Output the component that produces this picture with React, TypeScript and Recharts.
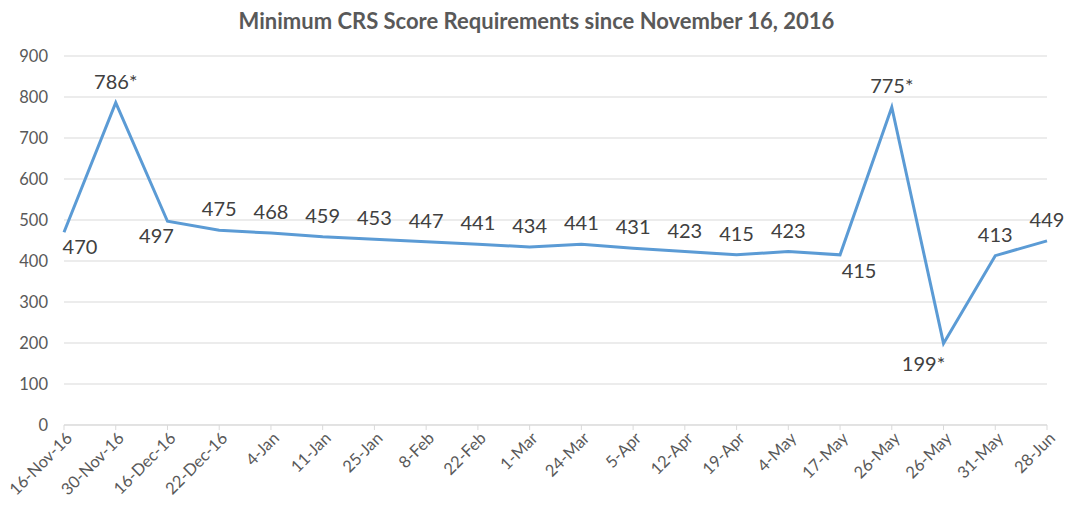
import React from 'react';
import { LineChart, Line, XAxis, YAxis, CartesianGrid, LabelList } from 'recharts';

const drawDates = [
  '16-Nov-16', '30-Nov-16', '16-Dec-16', '22-Dec-16', '4-Jan', '11-Jan', '25-Jan',
  '8-Feb', '22-Feb', '1-Mar', '24-Mar', '5-Apr', '12-Apr', '19-Apr', '4-May',
  '17-May', '26-May', '26-May', '31-May', '28-Jun',
];
const minScores = [
  470, 786, 497, 475, 468, 459, 453, 447, 441, 434, 441, 431, 423, 415, 423,
  415, 775, 199, 413, 449,
];
// program-specific draws are marked with an asterisk
const starred = [1, 16, 17];
const yTicks = [0, 100, 200, 300, 400, 500, 600, 700, 800, 900];

const data = drawDates.map((date, i) => ({
  date,
  score: minScores[i],
  label: starred.includes(i) ? `${minScores[i]}*` : `${minScores[i]}`,
}));

const FONT = 'Lato, "Open Sans", sans-serif';

// where each data label sits relative to its point
const labelOffset: Record<number, [number, number]> = {
  0: [16, 14],
  2: [-11, 14],
  15: [19, 15],
  17: [-20, 20],
};

const PointLabel = (props: any) => {
  const { x, y, value, index } = props;
  const [dx, dy] = labelOffset[index] ?? [0, -22];
  return (
    <text
      x={x + dx}
      y={y + dy}
      textAnchor="middle"
      dominantBaseline="central"
      fill="#404040"
      fontSize={20}
      fontFamily={FONT}
    >
      {value}
    </text>
  );
};

const DateTick = (props: any) => {
  const { x, y, payload } = props;
  return (
    <g transform={`translate(${x + 5},${y + 3})`}>
      <text
        textAnchor="end"
        transform="rotate(-45)"
        fill="#595959"
        fontSize={16.5}
        fontFamily={FONT}
        dominantBaseline="central"
      >
        {payload.value}
      </text>
    </g>
  );
};

export default function App() {
  return (
    <div style={{ position: 'absolute', left: 0, top: 0, width: 1073, height: 516, background: '#fff' }}>
      <div
        style={{
          position: 'absolute',
          top: 7,
          left: 0,
          width: 1073,
          textAlign: 'center',
          fontFamily: FONT,
          fontWeight: 700,
          fontSize: 22,
          color: '#595959',
        }}
      >
        Minimum CRS Score Requirements since November 16, 2016
      </div>
      <LineChart width={1073} height={516} data={data} margin={{ top: 56, right: 26, left: 14, bottom: 11 }}>
        <CartesianGrid vertical={false} stroke="#d9d9d9" />
        <XAxis
          dataKey="date"
          allowDuplicatedCategory
          interval={0}
          height={80}
          stroke="#d9d9d9"
          tickSize={5}
          tick={<DateTick />}
        />
        <YAxis
          domain={[0, 900]}
          ticks={yTicks}
          width={50}
          axisLine={false}
          tickLine={false}
          tickMargin={10}
          tick={{ fill: '#595959', fontSize: 16.5, fontFamily: FONT }}
        />
        <Line
          type="linear"
          dataKey="score"
          stroke="#5b9bd5"
          strokeWidth={3}
          dot={false}
          isAnimationActive={false}
        >
          <LabelList dataKey="label" content={<PointLabel />} />
        </Line>
      </LineChart>
    </div>
  );
}
